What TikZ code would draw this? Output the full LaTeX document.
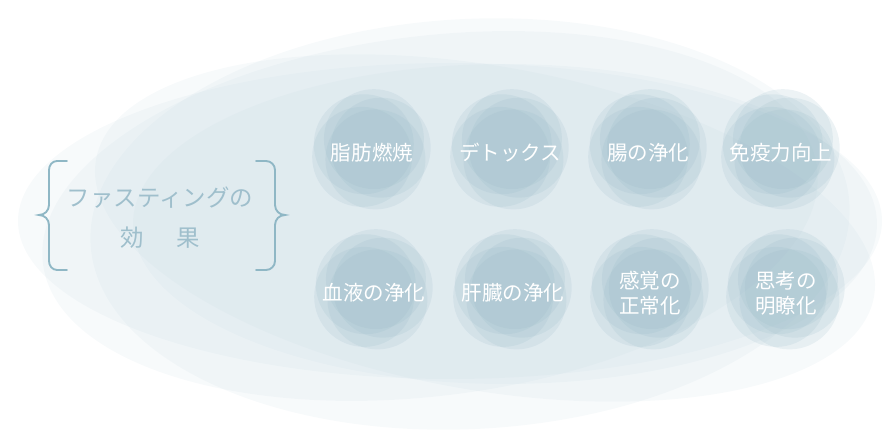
\documentclass[tikz,border=0pt]{standalone}
\usepackage{fontspec}
\usepackage{xcolor}
\newfontfamily\jpfont{Noto Sans CJK JP}
\definecolor{mist}{HTML}{BED4DE}
\definecolor{halo}{HTML}{96B9C6}
\definecolor{brace}{HTML}{8FB7C5}
\definecolor{titletext}{HTML}{9FBFCC}

\begin{document}
\begin{tikzpicture}[x=0.03cm,y=0.03cm,
    haze/.style={fill=mist,fill opacity=0.12},
    bubble/.style={fill=halo,fill opacity=0.17},
    effect/.style={text=white,align=center,font=\jpfont\fontsize{17.5}{21}\selectfont},
    heading/.style={text=titletext,align=center,font=\jpfont\fontsize{20}{34}\selectfont},
    bracket/.style={draw=brace,line width=1.6pt,line cap=round}]
    \useasboundingbox (0,0) rectangle (896,446);
    \foreach \cx/\cy/\rx/\ry/\r in {450/225/432/158/0,470/222/380/205/3,485/218/395/162/-10,430/230/390/180/7,505/222/372/160/0}
        {\fill[haze,rotate around={\r:(\cx,\cy)}] (\cx,\cy) ellipse [x radius=\rx,y radius=\ry];}
    \foreach \n/\x/\y/\t in {fat/372/296/脂肪燃焼,detox/510/296/デトックス,gut/648/296/腸の浄化,immune/781/296/免疫力向上,
        blood/374/156/血液の浄化,liver/513/156/肝臓の浄化,sense/650/156/{感覚の\\正常化},mind/786/156/{思考の\\明瞭化}} {
        \foreach \a/\d in {15/9,80/11,145/10,215/12,290/10} {\fill[bubble,shift={(\a:\d)}] (\x,\y) circle (50);}
        \node[effect] (\n) at (\x,\y-3) {\t};
    }
    \node[heading] (title) at (160,228) {ファスティングの\\効\hspace{1.4em}果};
    \draw[bracket] (67,285) -- (57,285) to[out=180,in=90] (49,276) -- (49,241) to[out=-90,in=0] (39,231)
        to[out=0,in=90] (49,221) -- (49,185) to[out=-90,in=180] (57,176) -- (67,176);
    \draw[bracket] (256,285) -- (266,285) to[out=0,in=90] (275,276) -- (275,241) to[out=-90,in=180] (285,231)
        to[out=180,in=90] (275,221) -- (275,185) to[out=-90,in=0] (266,176) -- (256,176);
\end{tikzpicture}
\end{document}
